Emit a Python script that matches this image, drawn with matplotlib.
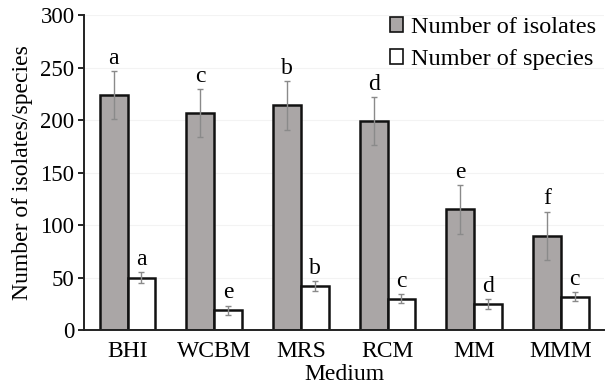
import numpy as np
import matplotlib
matplotlib.use("Agg")
from matplotlib import pyplot as plt

# data
media = ["BHI", "WCBM", "MRS", "RCM", "MM", "MMM"]
isolates = [224, 207, 214, 199, 115, 90]
isolates_err = [23, 23, 23, 23, 23, 23]
species = [50, 19, 42, 30, 25, 32]
species_err = [5, 4.5, 4.5, 4.5, 4.5, 4.5]
isolates_letters = ["a", "c", "b", "d", "e", "f"]
species_letters = ["a", "e", "b", "c", "d", "c"]

plt.rcParams["font.family"] = ["Liberation Serif", "DejaVu Serif"]
plt.rcParams["font.size"] = 17

fig = plt.figure(figsize=(6.06, 3.88), dpi=100)
ax = fig.add_axes([0.139, 0.149, 0.858, 0.812])

x = np.arange(len(media))
w = 0.32
gray = "#aaa6a6"

ax.bar(x - w / 2, isolates, w, color=gray, edgecolor="#111111", linewidth=1.8,
       label="Number of isolates", zorder=2)
ax.bar(x + w / 2, species, w, color="white", edgecolor="#111111", linewidth=1.8,
       label="Number of species", zorder=2)
ax.errorbar(x - w / 2, isolates, yerr=isolates_err, fmt="none", ecolor="#8a8a8a",
            elinewidth=1, capsize=2, capthick=1, zorder=3)
ax.errorbar(x + w / 2, species, yerr=species_err, fmt="none", ecolor="#8a8a8a",
            elinewidth=1, capsize=2, capthick=1, zorder=3)

# significance letters
for xi, v, e, t in zip(x - w / 2, isolates, isolates_err, isolates_letters):
    ax.text(xi, v + e + 2, t, ha="center", va="bottom", fontsize=17)
for xi, v, e, t in zip(x + w / 2, species, species_err, species_letters):
    ax.text(xi, v + e + 2, t, ha="center", va="bottom", fontsize=17)

ax.set_xlim(-0.5, 5.5)
ax.set_ylim(0, 300)
ax.set_yticks(range(0, 301, 50))
ax.set_xticks(x)
ax.set_xticklabels(media)
ax.tick_params(axis="x", length=0, pad=8, labelsize=17)
ax.tick_params(axis="y", length=4, width=1.2, pad=3, labelsize=16.5)
ax.set_xlabel("Medium", labelpad=1)
ax.set_ylabel("Number of isolates/species", labelpad=5)

for s in ["top", "right"]:
    ax.spines[s].set_visible(False)
for s in ["left", "bottom"]:
    ax.spines[s].set_linewidth(1.4)
    ax.spines[s].set_color("#222222")

ax.yaxis.grid(True, color="#f3f3f3", linewidth=0.8, zorder=0)
ax.set_axisbelow(True)

leg = ax.legend(loc="upper right", bbox_to_anchor=(1.012, 1.04), frameon=False,
                fontsize=17.5, handlelength=0.55, handleheight=0.55,
                handletextpad=0.3, labelspacing=0.45, borderaxespad=0.2)
for h in leg.legend_handles:
    h.set_linewidth(1.2)

fig.savefig("out.png", dpi=100)
